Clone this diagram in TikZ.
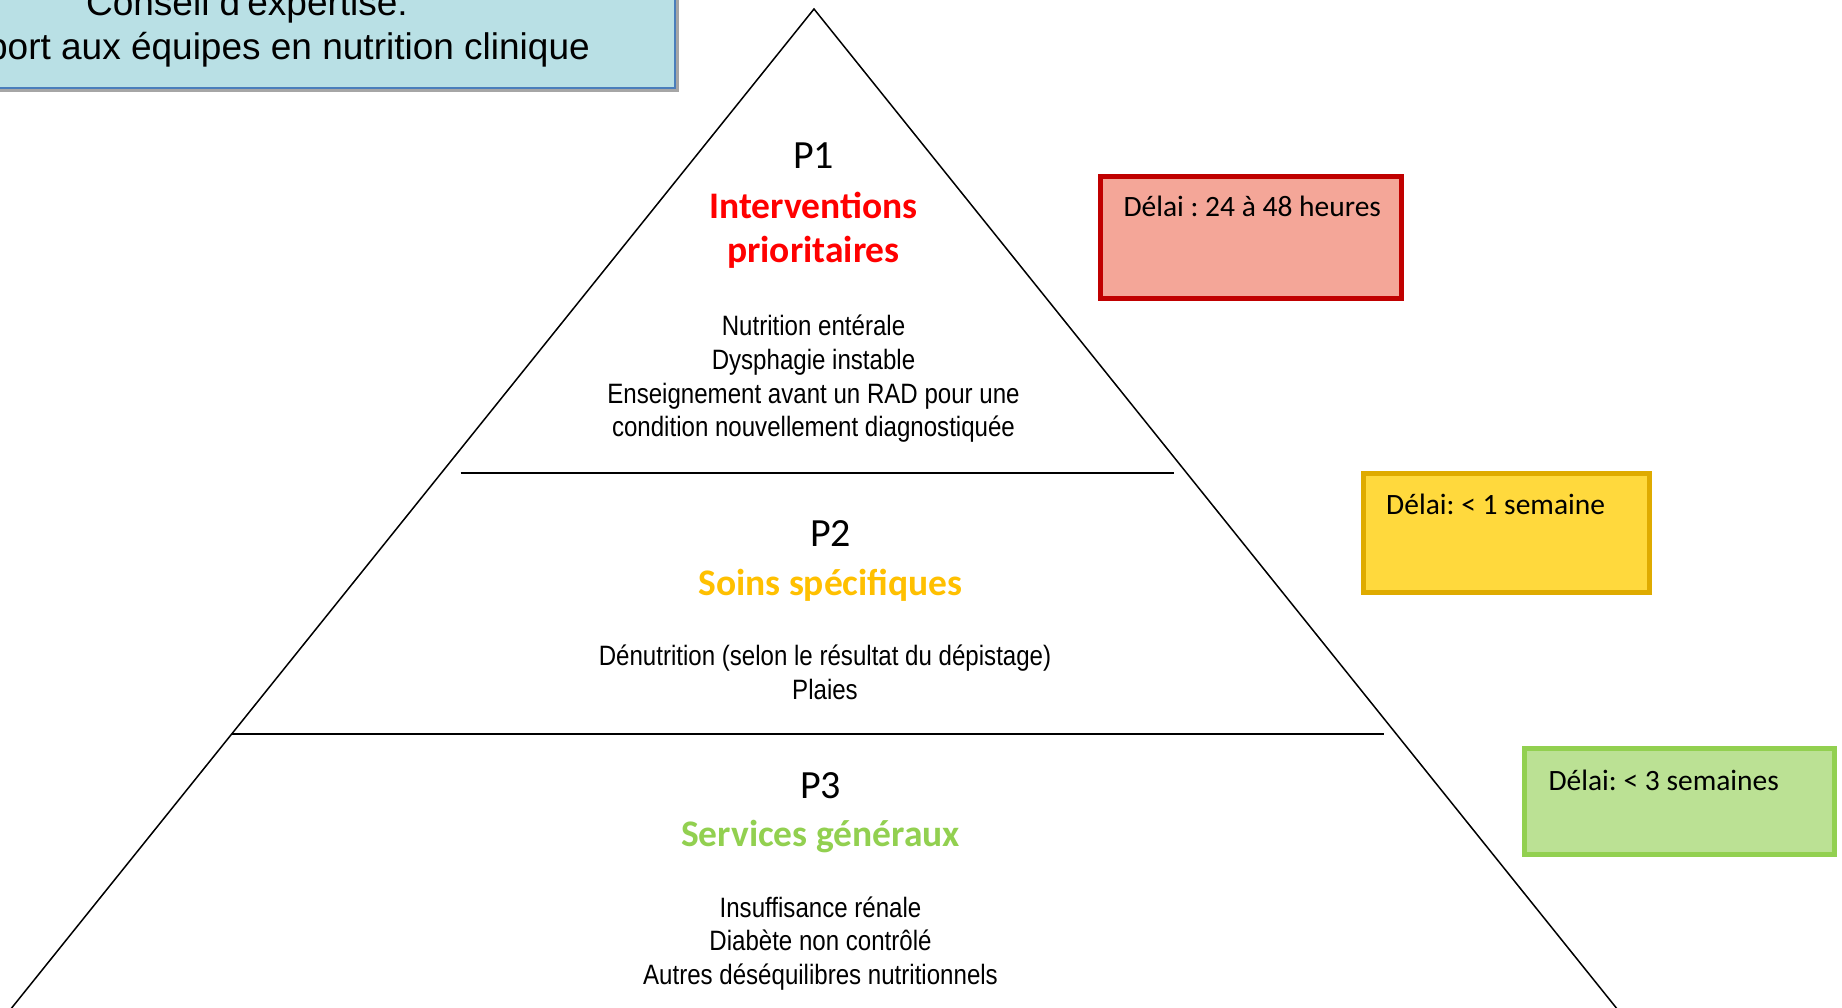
\documentclass[tikz,border=0pt]{standalone}
\usepackage{fontspec}
\setmainfont{Carlito}
\newfontfamily\narrowf[FakeStretch=0.86]{Liberation Sans}
\newfontfamily\arialf{Liberation Sans}
\frenchspacing
\definecolor{infofill}{HTML}{B9E0E5}
\definecolor{infoborder}{HTML}{4A7EBB}
\definecolor{infoshadow}{HTML}{A6A6A6}
\definecolor{pred}{HTML}{FF0000}
\definecolor{pgold}{HTML}{FFC000}
\definecolor{pgreen}{HTML}{92D050}
\definecolor{redborder}{HTML}{C00000}
\definecolor{redfill}{HTML}{F4A698}
\definecolor{yelborder}{HTML}{DFAB00}
\definecolor{yelfill}{HTML}{FFD93D}
\definecolor{grnborder}{HTML}{92D050}
\definecolor{grnfill}{HTML}{BBE194}
\tikzset{
  body/.style={font=\narrowf\fontsize{28}{33}\selectfont, anchor=base, inner sep=0pt},
  plabel/.style={font=\fontsize{40}{48}\selectfont, anchor=base, inner sep=0pt},
  ptitle/.style={font=\bfseries\fontsize{37.5}{45}\selectfont, anchor=base, inner sep=0pt},
  delaybox/.style={line width=5pt, inner sep=0pt},
  delaytext/.style={font=\fontsize{29.5}{35}\selectfont, anchor=base west, inner sep=0pt},
  infotext/.style={font=\arialf\fontsize{37}{44}\selectfont, inner sep=0pt},
  tierline/.style={line width=2pt},
  pyramid/.style={line width=1.5pt, line join=miter}
}
\begin{document}
\begin{tikzpicture}[x=1pt,y=-1pt]
\useasboundingbox (0,0) rectangle (1842,1008);
\clip (0,0) rectangle (1842,1008);
\fill[white] (0,0) rectangle (1842,1008);

% info box (top left)
\fill[infoshadow] (-10,-10) rectangle (679,92);
\draw[line width=2pt, draw=infoborder, fill=infofill] (-10,-10) rectangle (675,88);
\node[infotext, anchor=base] (info1) at (247,15.5) {Conseil d'expertise:};
\node[infotext, anchor=base east] (info2) at (590,59.5) {Support aux équipes en nutrition clinique};

% pyramid
\coordinate (apex) at (814,9);
\coordinate (bl) at (2,1020);
\coordinate (br) at (1626,1020);
\draw[pyramid] (bl) -- (apex) -- (br);
\coordinate (l1a) at (460.7,473.3);
\coordinate (l1b) at (1174.3,473.3);
\coordinate (l2a) at (231.7,734);
\coordinate (l2b) at (1384.3,734);
\draw[tierline] (l1a) -- (l1b);
\draw[tierline] (l2a) -- (l2b);

% P1
\node[plabel] (p1) at (813.5,168.3) {P1};
\node[ptitle, text=pred] (p1t1) at (813.5,218.5) {Interventions};
\node[ptitle, text=pred] (p1t2) at (813.5,262.5) {prioritaires};
\node[body] (p1b1) at (813.5,336) {Nutrition entérale};
\node[body] (p1b2) at (813.5,369.5) {Dysphagie instable};
\node[body] (p1b3) at (813.5,403) {Enseignement avant un RAD pour une};
\node[body] (p1b4) at (813.5,436.5) {condition nouvellement diagnostiquée};

% P2
\node[plabel] (p2) at (830.5,546) {P2};
\node[ptitle, text=pgold] (p2t) at (830.5,595.5) {Soins spécifiques};
\node[body] (p2b1) at (825,665.5) {Dénutrition (selon le résultat du dépistage)};
\node[body] (p2b2) at (825,699.5) {Plaies};

% P3
\node[plabel] (p3) at (820.5,798.3) {P3};
\node[ptitle, text=pgreen] (p3t) at (820.5,846.5) {Services généraux};
\node[body] (p3b1) at (820.5,917) {Insuffisance rénale};
\node[body] (p3b2) at (820.5,950.5) {Diabète non contrôlé};
\node[body] (p3b3) at (820.5,984.5) {Autres déséquilibres nutritionnels};

% delay boxes
\node[delaybox, draw=redborder, fill=redfill, minimum width=300.7pt, minimum height=121.7pt] (d1) at (1251.15,237.35) {};
\node[delaytext] (d1t) at (1123.3,216.7) {Délai : 24 à 48 heures};
\node[delaybox, draw=yelborder, fill=yelfill, minimum width=286.3pt, minimum height=119.6pt] (d2) at (1506.2,532.8) {};
\node[delaytext] (d2t) at (1386,514) {Délai: < 1 semaine};
\node[delaybox, draw=grnborder, fill=grnfill, minimum width=309.4pt, minimum height=106pt] (d3) at (1679.5,801.2) {};
\node[delaytext] (d3t) at (1548.3,790.7) {Délai: < 3 semaines};
\end{tikzpicture}
\end{document}
